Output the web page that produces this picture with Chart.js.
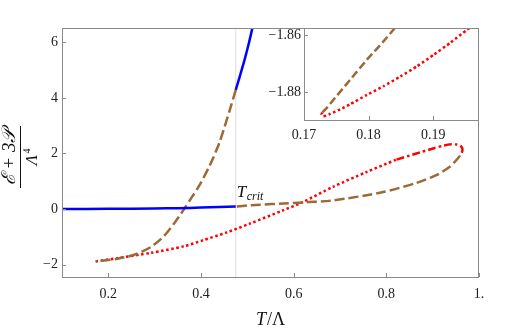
<!DOCTYPE html>
<html>
<head>
<meta charset="utf-8">
<script src="https://cdn.jsdelivr.net/npm/chart.js@4.4.1/dist/chart.umd.min.js"></script>
<style>
  html, body { margin: 0; padding: 0; background: #fff; }
  #wrap { position: relative; width: 507px; height: 332px; }
  #main { position: absolute; left: 0; top: 0; }
  #inset { position: absolute; left: 250px; top: 14px; }
</style>
</head>
<body>
<div id="wrap">
  <canvas id="main" width="507" height="332"></canvas>
  <canvas id="inset" width="235" height="136"></canvas>
</div>
<script>
// critical temperature (vertical marker)
const Tcrit = 0.475;

// stable branch, low T
const blueLowT = [0.1, 0.2, 0.3, 0.35, 0.4, 0.44, 0.475];
const blueLowV = [0.0, 0.005, 0.02, 0.03, 0.05, 0.07, 0.09];
// stable branch, high T
const blueUpT = [0.475, 0.485, 0.494, 0.503, 0.512];
const blueUpV = [4.29, 4.85, 5.37, 5.95, 6.6];
// metastable, from Tcrit down to the minimum
const brownUpT = [0.475, 0.4622, 0.44, 0.4184, 0.3968, 0.38, 0.3635, 0.343, 0.321, 0.292, 0.256, 0.22, 0.195, 0.177, 0.1727];
const brownUpV = [4.29, 3.57, 2.4, 1.55, 0.86, 0.42, 0.0, -0.5, -0.96, -1.37, -1.65, -1.79, -1.85, -1.877, -1.888];
// metastable, from the right turning point back to Tcrit
const brownRightT = [0.959, 0.951, 0.937, 0.908, 0.865, 0.793, 0.685, 0.599, 0.505, 0.475];
const brownRightV = [1.92, 1.76, 1.52, 1.22, 0.94, 0.61, 0.31, 0.22, 0.13, 0.09];
// unstable
const redDotT = [0.1727, 0.22, 0.292, 0.364, 0.404, 0.4545, 0.505, 0.577, 0.62, 0.685, 0.757, 0.822];
const redDotV = [-1.888, -1.77, -1.58, -1.34, -1.13, -0.85, -0.53, -0.05, 0.25, 0.8, 1.33, 1.78];
const redDashDotT = [0.822, 0.865, 0.901, 0.925, 0.94, 0.952, 0.961, 0.9645, 0.9625, 0.959];
const redDashDotV = [1.78, 2.0, 2.18, 2.29, 2.33, 2.32, 2.26, 2.14, 2.02, 1.92];

// inset: close-up of the minimum
const insetBrownT = [0.17284, 0.17357, 0.17455, 0.17714, 0.17974, 0.18231, 0.18439, 0.1846];
const insetBrownV = [-1.88714, -1.88544, -1.88272, -1.87565, -1.86859, -1.86212, -1.85657, -1.85604];
const insetRedT = [0.17284, 0.17272, 0.17295, 0.17342, 0.17404, 0.17559, 0.17714, 0.17974, 0.18227, 0.18491, 0.1875, 0.19008, 0.19267, 0.19526, 0.19578];
const insetRedV = [-1.88714, -1.88784, -1.88848, -1.88827, -1.88767, -1.88608, -1.88424, -1.88095, -1.87795, -1.87449, -1.87088, -1.86682, -1.86258, -1.85799, -1.8571];

const xTicks = [0.2, 0.4, 0.6, 0.8, 1.0];
const yTicks = [-2, 0, 2, 4, 6];
const insetXTicks = [0.17, 0.18, 0.19];
const insetYTicks = [-1.88, -1.86];

const BLUE = "#0000ff";
const BROWN = "#9c6a38";
const RED = "#ff0000";
const AXIS = "#8a8a8a";
const SERIF = "'Liberation Serif', 'DejaVu Serif', serif";

function pts(t, v) {
  return t.map((x, i) => ({ x, y: v[i] }));
}

function line(t, v, color, dash, tension = 0.25) {
  return {
    data: pts(t, v),
    showLine: true,
    borderColor: color,
    borderWidth: 2.5,
    borderDash: dash,
    pointRadius: 0,
    tension,
    fill: false,
  };
}

function minus(s) {
  return s.replace("-", "\u2212");
}

// frame + inside tick marks, shared by both charts
function drawFrame(chart, xt, yt) {
  const { ctx, chartArea: a, scales } = chart;
  ctx.save();
  ctx.strokeStyle = AXIS;
  ctx.lineWidth = 1;
  ctx.strokeRect(a.left + 0.5, a.top + 0.5, a.right - a.left - 1, a.bottom - a.top);
  ctx.beginPath();
  xt.forEach((v) => {
    const px = Math.round(scales.x.getPixelForValue(v)) + 0.5;
    ctx.moveTo(px, a.bottom);
    ctx.lineTo(px, a.bottom - 4);
  });
  yt.forEach((v) => {
    const py = Math.round(scales.y.getPixelForValue(v)) + 0.5;
    ctx.moveTo(a.left, py);
    ctx.lineTo(a.left + 4, py);
  });
  ctx.stroke();
  ctx.restore();
}

function fixedTicks(list) {
  return (scale) => {
    scale.ticks = list.map((value) => ({ value }));
  };
}

const mainPlugin = {
  id: "mainDecor",
  beforeDatasetsDraw(chart) {
    const { ctx, chartArea: a, scales } = chart;
    const px = scales.x.getPixelForValue(Tcrit);
    ctx.save();
    ctx.strokeStyle = "#e2e2e2";
    ctx.lineWidth = 1.2;
    ctx.beginPath();
    ctx.moveTo(px, a.top);
    ctx.lineTo(px, a.bottom);
    ctx.stroke();
    ctx.restore();
  },
  afterDraw(chart) {
    const { ctx, scales } = chart;
    drawFrame(chart, xTicks, yTicks);
    ctx.save();
    ctx.fillStyle = "#111";

    // T_crit label
    const tx = scales.x.getPixelForValue(Tcrit);
    ctx.textAlign = "left";
    ctx.textBaseline = "alphabetic";
    ctx.font = "italic 17px " + SERIF;
    ctx.fillText("T", tx + 1, 197);
    ctx.font = "italic 12px " + SERIF;
    ctx.fillText("crit", tx + 11, 200);

    // x title
    ctx.font = "italic 18px " + SERIF;
    const wT = ctx.measureText("T").width;
    ctx.font = "18px " + SERIF;
    const wRest = ctx.measureText("/\u039b").width;
    const x0 = 270 - (wT + wRest) / 2;
    ctx.font = "italic 18px " + SERIF;
    ctx.fillText("T", x0, 325);
    ctx.font = "18px " + SERIF;
    ctx.fillText("/\u039b", x0 + wT + 1, 325);

    // y title: fraction, rotated
    ctx.translate(20, 157);
    ctx.rotate(-Math.PI / 2);
    ctx.textAlign = "center";
    ctx.font = "italic 19px " + SERIF;
    ctx.textBaseline = "alphabetic";
    ctx.fillText("\u2130 + 3\ud835\udcab", 0, -5);
    ctx.strokeStyle = "#111";
    ctx.lineWidth = 1;
    ctx.beginPath();
    ctx.moveTo(-31, 0.5);
    ctx.lineTo(31, 0.5);
    ctx.stroke();
    ctx.font = "italic 17px " + SERIF;
    ctx.fillText("\u039b", -3, 17);
    ctx.font = "10px " + SERIF;
    ctx.fillText("4", 6, 10);
    ctx.restore();
  },
};

const insetPlugin = {
  id: "insetDecor",
  beforeDatasetsDraw(chart) {
    const { ctx, chartArea: a } = chart;
    ctx.save();
    ctx.fillStyle = "#fff";
    ctx.fillRect(a.left, a.top, a.right - a.left, a.bottom - a.top);
    ctx.restore();
  },
  afterDraw(chart) {
    drawFrame(chart, insetXTicks, insetYTicks);
  },
};

new Chart(document.getElementById("main"), {
  type: "scatter",
  data: {
    datasets: [
      line(blueLowT, blueLowV, BLUE, []),
      line(blueUpT, blueUpV, BLUE, []),
      line(brownUpT, brownUpV, BROWN, [10, 4]),
      line(brownRightT, brownRightV, BROWN, [10, 4]),
      line(redDotT, redDotV, RED, [2.5, 2.6]),
      line(redDashDotT, redDashDotV, RED, [8, 3, 2.5, 3]),
    ],
  },
  options: {
    responsive: false,
    animation: false,
    layout: { padding: { left: 0, right: 28, top: 28, bottom: 0 } },
    plugins: { legend: { display: false }, tooltip: { enabled: false } },
    scales: {
      x: {
        type: "linear",
        min: 0.1,
        max: 1.0,
        afterBuildTicks: fixedTicks(xTicks),
        afterFit: (s) => { s.height = 55; },
        grid: { display: false, drawTicks: false },
        border: { display: false },
        ticks: {
          padding: 9,
          color: "#222",
          font: { family: SERIF, size: 14 },
          callback: (v) => (v === 1 ? "1." : v.toFixed(1)),
        },
      },
      y: {
        type: "linear",
        min: -2.45,
        max: 6.52,
        afterBuildTicks: fixedTicks(yTicks),
        afterFit: (s) => { s.width = 62; },
        grid: { display: false, drawTicks: false },
        border: { display: false },
        ticks: {
          padding: 4,
          color: "#222",
          font: { family: SERIF, size: 14 },
          callback: (v) => minus(String(v)),
        },
      },
    },
  },
  plugins: [mainPlugin],
});

new Chart(document.getElementById("inset"), {
  type: "scatter",
  data: {
    datasets: [
      line(insetBrownT, insetBrownV, BROWN, [8, 3.5], 0.15),
      line(insetRedT, insetRedV, RED, [2.5, 2.6], 0.15),
    ],
  },
  options: {
    responsive: false,
    animation: false,
    layout: { padding: { left: 0, right: 6, top: 14, bottom: 0 } },
    plugins: { legend: { display: false }, tooltip: { enabled: false } },
    scales: {
      x: {
        type: "linear",
        min: 0.17,
        max: 0.1971,
        afterBuildTicks: fixedTicks(insetXTicks),
        afterFit: (s) => { s.height = 30; },
        grid: { display: false, drawTicks: false },
        border: { display: false },
        ticks: {
          padding: 7,
          color: "#222",
          font: { family: SERIF, size: 14 },
          callback: (v) => v.toFixed(2),
        },
      },
      y: {
        type: "linear",
        min: -1.8898,
        max: -1.8574,
        afterBuildTicks: fixedTicks(insetYTicks),
        afterFit: (s) => { s.width = 54; },
        grid: { display: false, drawTicks: false },
        border: { display: false },
        ticks: {
          padding: 3,
          color: "#222",
          font: { family: SERIF, size: 14 },
          callback: (v) => minus(v.toFixed(2)),
        },
      },
    },
  },
  plugins: [insetPlugin],
});
</script>
</body>
</html>
